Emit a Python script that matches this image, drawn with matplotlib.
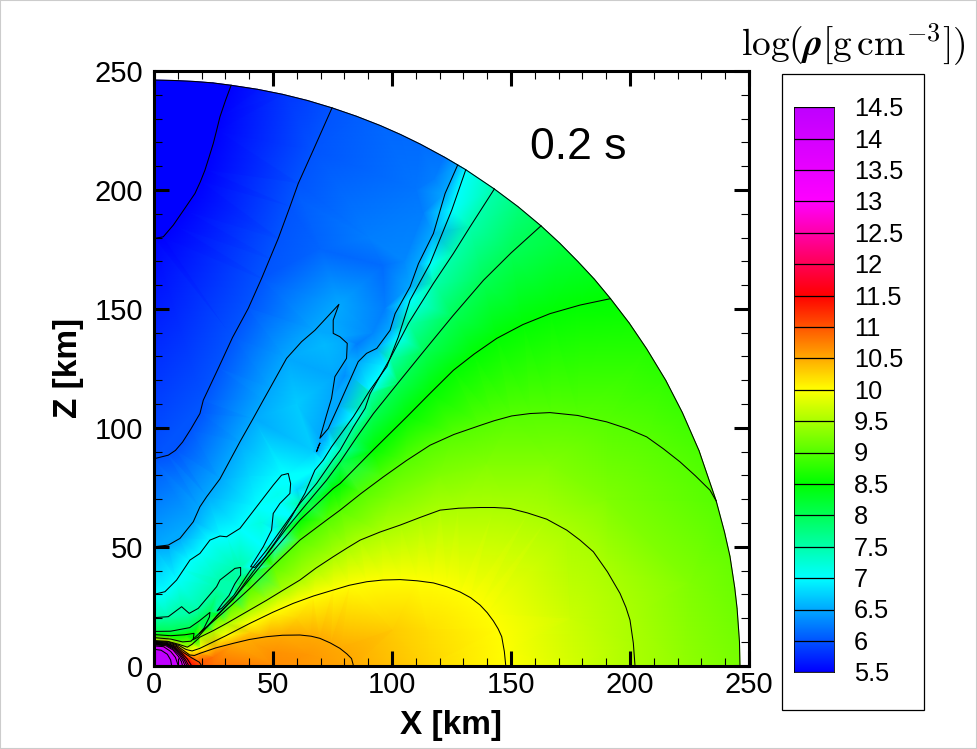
#!/usr/bin/env python3
import numpy as np
import matplotlib
matplotlib.use("Agg")
import matplotlib.pyplot as plt
import matplotlib.tri as mtri
from matplotlib.colors import LinearSegmentedColormap
from matplotlib.patches import Rectangle
from matplotlib.ticker import MultipleLocator

plt.rcParams['font.family'] = ['Liberation Sans', 'DejaVu Sans']
plt.rcParams['mathtext.fontset'] = 'cm'

# === Density contours, X and Z in km ===
c55_x = [0, 3.9, 8.1, 12.5, 17.2, 19.5, 21.4, 23.2, 24.9, 26.3, 27.7, 30, 32.4]
c55_z = [179.6, 180.3, 185.2, 191.6, 198.5, 203.5, 208.3, 214, 219.5, 225, 230.7, 237.5, 244.0]

c60_x = [0, 6, 9, 12, 15.5, 19.3, 20.7, 27, 33, 39.6, 45.2, 48.7, 52.2, 57.1, 60.6, 66.9, 74.8]
c60_z = [87, 88.5, 90.5, 94, 99.5, 106, 111.6, 125, 138, 150.2, 162.8, 171.2, 179.6, 192.9, 202.7, 216.7, 234.5]

c65_x = [0, 6, 10.9, 16.5, 19.3, 22.1, 27.7, 36.1, 41.7, 45.9, 48.7, 55.7, 62, 67.6, 77.7,
         75.3, 75.3, 78.1, 81.2, 80.9, 76, 74.6, 72.5, 69.7, 73.2, 77.4, 83, 85.8, 89.3,
         93.6, 99.2, 101.3, 107.6, 111.1, 117.4, 122.3, 127.6]
c65_z = [50, 50.7, 53.5, 60.5, 66.8, 71, 78.5, 94.1, 104, 111.6, 116.6, 129.2, 136.2, 141, 151.9,
         145.3, 139.7, 138.3, 135.5, 129.2, 121.5, 112.4, 105.4, 95.6, 99.7, 108.9, 121.5, 127.8, 131.3,
         133.4, 141, 148, 159.3, 169, 181.7, 198.5, 210.5]
island_x = [69.7, 68.3, 69.2, 69.7]
island_z = [93.5, 90, 92.6, 93.5]

c70_x = [0, 4.6, 9.5, 12.3, 15.1, 19.3, 23.5, 27.7, 30.5, 36.1, 43.1, 50.1, 53.6, 56.4, 57.4,
         57.1, 52.9, 50.1, 49.4, 45.9, 40.6, 42.4, 46.6, 51.5, 57.8, 63.4, 67.6, 71.1, 74.6,
         83.8, 90.8, 97.8, 102.7, 107.6, 116, 125.1, 131]
c70_z = [30, 31.1, 36, 40.2, 44.4, 47.2, 52.8, 54.5, 54.2, 57.7, 66.8, 75.9, 80.1, 80.8, 76.6,
         72.4, 68.2, 64, 57, 50, 41.6, 41.3, 45.8, 52.8, 62.6, 72.4, 82.2, 86.4, 92,
         104.7, 115.9, 125.7, 138.3, 153.7, 169.1, 191.5, 208.5]

c75_x = [0, 6, 11.6, 14.8, 18.6, 26.3, 27.7, 34, 36.4, 36.4, 34, 31.5, 29, 26.5, 28.5, 33.5,
         40.3, 47.3, 54.3, 61.3, 68.3, 75.1, 78.2, 83.8, 88.7, 90.8, 99.2, 106.9, 117.4, 125.8,
         132.8, 143]
c75_z = [20.2, 20.6, 24.8, 22, 24.1, 33.2, 36, 40.9, 41.3, 38.1, 34.5, 29.5, 26.5, 23, 24.2, 29.5,
         39.8, 48.6, 58.4, 68.2, 76.6, 86.4, 90.6, 100.4, 108.2, 114.4, 129.1, 143.9, 160.7, 173.3,
         184.5, 200.4]

c80_x = [0, 7, 15, 19, 23.5, 23.3, 21, 19, 22.5, 28, 34, 41.7, 48.7, 55.7, 64.1, 72.5, 78.2, 85, 92.2,
         102.5, 113.2, 125.5, 138.4, 150, 162.6]
c80_z = [14.4, 14.5, 16, 18.8, 22.4, 20.5, 15.8, 13.5, 16.5, 22.8, 29, 39.6, 48.5, 57.8, 68, 78, 85.7, 95.8, 106,
         118.8, 132, 147, 162, 173.5, 184.9]

c85_x = [0, 7, 13, 16.8, 16.5, 18.5, 22, 27, 33.3, 38.9, 47.3, 61.3, 75.3, 78.2, 92, 106.2, 116, 125.8, 134.5,
         144, 155, 166.4, 179, 191.8]
c85_z = [13.1, 12.6, 13, 13.6, 11, 12, 16, 21.5, 28, 34.8, 45, 61.2, 74.5, 76.6, 90.6, 104.6, 114.5, 124.2, 131,
         137.6, 143.4, 148, 151.6, 154.3]

c90_x = [0, 7, 12, 15.5, 19.3, 27, 33, 40.3, 50, 61.3, 72.5, 78.2, 87, 96.4, 106, 116, 126, 137, 143, 150.3,
         158, 166.4, 178, 190.2, 199, 207, 214, 221, 227.5, 233.6, 236.2]
c90_z = [11.8, 11.2, 10, 10.3, 13.8, 20.5, 25.8, 32.5, 42, 52.8, 61.2, 65.4, 72.4, 79.4, 86.2, 92.7, 97.2, 101, 103, 105,
         106, 106.4, 105.2, 102.5, 99.6, 96.2, 91.2, 85.7, 79.8, 73.8, 69.3]

c95_x = [0, 6, 11, 14, 16, 19.3, 25, 30.5, 39, 47.3, 54, 61.3, 68, 75.3, 81, 86.6, 95, 103.4, 112, 120.2, 128,
         137, 143, 149.6, 157, 165, 173.4, 179, 184.6, 190.5, 195.8, 198.3, 200, 201.4, 202.1]
c95_z = [10.6, 10.2, 8.8, 7.8, 9, 12, 14.8, 17.8, 22.7, 27.5, 31.6, 36, 41, 45.8, 49.4, 52.8, 56.2, 59.1, 62.4, 65.4, 66.2,
         66.5, 66.5, 66.1, 64.2, 61.6, 57, 52.8, 47.9, 39.5, 30.4, 24.5, 19.2, 9.5, 0]

c100_x = [0, 6, 10.5, 13.5, 16, 19.3, 30, 40.3, 50, 58.5, 67, 75.3, 82, 89.4, 96, 103.4, 110.5, 117.4, 123, 128.6,
          133, 137, 140, 142.6, 144.6, 146.1, 147.2, 147.8]
c100_z = [10.2, 10, 8.5, 6.8, 6.2, 7.3, 12.5, 17.8, 22.5, 26.2, 29.3, 31.8, 33.8, 35.3, 36, 36.2, 35.7, 34.8, 33.2, 31,
          28.6, 25.5, 22.3, 18.8, 15.5, 12.2, 6, 0]

c105_x = [0, 5, 9.5, 12.5, 15, 17, 19.3, 26, 33.3, 40, 47.3, 54, 61.3, 66, 69.7, 74, 78.1, 81, 83, 83.8]
c105_z = [10, 9.9, 8.5, 6.3, 4.5, 4.3, 5.2, 7.5, 9.4, 11, 12.2, 12.8, 12.9, 12.4, 11.5, 9.6, 7.3, 5, 3, 0]

c110_x = [0, 5, 9.5, 12, 16, 19, 20]
c110_z = [9.8, 9.6, 8, 5.8, 3.2, 1.5, 0]
c115_x = [0, 5, 9, 11.7, 14, 15.8]
c115_z = [9.6, 9.4, 7.8, 5.3, 2.8, 0]
c120_x = [0, 5, 8.8, 11.4, 13.3, 14.6]
c120_z = [9.4, 9.2, 7.5, 5, 2.4, 0]
c125_x = [0, 5, 8.5, 11, 12.8, 13.8]
c125_z = [9.2, 9, 7.3, 4.7, 2.2, 0]
c130_x = [0, 5, 8.2, 10.7, 12.2, 13]
c130_z = [9, 8.8, 7, 4.4, 2, 0]
c135_x = [0, 5, 8, 10.2, 11.5, 12]
c135_z = [8.7, 8.4, 6.6, 4, 1.8, 0]
c140_x = [0, 4, 7, 9, 10.2]
c140_z = [8.3, 8, 6, 3.5, 0]
c145_x = [0, 3, 5.6, 7, 7.4]
c145_z = [6.9, 6.5, 4.8, 2.4, 0]

# outer edge of the domain with the density seen along it
outer_x = [0, 8.7, 17, 24.7, 32.4, 43.5, 54, 64.5, 74.8, 85, 95, 103.6, 112, 122, 127.6, 131, 143, 152.9, 162.6,
           170.5, 178, 185, 191.8, 199.7, 207, 215, 222, 229, 236.2, 239.7, 242, 244, 245, 246, 246.2]
outer_z = [246.2, 246, 245.6, 245, 244, 242.3, 240.2, 237.6, 234.5, 231, 227.1, 223.3, 219.2, 213.8, 210.5, 208.5,
           200.4, 193, 184.9, 177.6, 170, 162.5, 154.3, 144, 133.2, 120, 106.4, 90.4, 69.3, 56.2, 46, 32.8, 24, 10, 0]
outer_v = [5.2, 5.28, 5.35, 5.43, 5.5, 5.65, 5.8, 5.9, 6, 6.05, 6.1, 6.13, 6.15, 6.2, 6.5, 7, 7.5, 7.8, 8,
           8.12, 8.25, 8.38, 8.5, 8.6, 8.7, 8.78, 8.85, 8.93, 9, 9.05, 9.1, 9.13, 9.15, 9.18, 9.2]

# densities estimated from the colours away from the contours
sample_x = [0, 25, 25, 50, 50, 65, 40, 60, 72, 45, 52, 26, 33, 21, 50, 60, 67, 72, 80, 85, 96, 110, 61, 69.7, 90,
            113, 105, 118, 97, 92,
            115, 115, 100, 60, 40, 175, 175, 222, 225, 190, 166, 140, 120, 100]
sample_z = [0, 0, 4, 0, 6, 5, 80, 110, 135, 60, 72, 29, 37, 19, 58, 74, 90, 95, 122, 135, 168, 200, 196, 175, 180,
            190, 170, 205, 150, 140,
            0, 15, 15, 20, 14, 0, 20, 0, 35, 70, 85, 85, 80, 70]
sample_v = [14.7, 10.85, 10.8, 10.7, 10.65, 10.6, 6.75, 6.7, 6.6, 7.2, 7.1, 7.7, 7.6, 8.1, 6.9, 6.75, 6.7, 6.55,
            6.35, 6.25, 6.15, 6.2, 6.05, 6.1, 6.25,
            6.25, 6.3, 6.25, 6.25, 6.3,
            10.25, 10.2, 10.3, 10.25, 10.3, 9.75, 9.7, 9.35, 9.25, 9.25, 9.25, 9.25, 9.25, 9.25]

levels = [5.5, 6, 6.5, 7, 7.5, 8, 8.5, 9, 9.5, 10, 10.5, 11, 11.5, 12, 12.5, 13, 13.5, 14, 14.5]
level_labels = ['5.5', '6', '6.5', '7', '7.5', '8', '8.5', '9', '9.5', '10', '10.5', '11', '11.5', '12',
                '12.5', '13', '13.5', '14', '14.5']

contours = [
    (5.5, c55_x, c55_z), (6, c60_x, c60_z), (6.5, c65_x, c65_z), (6.5, island_x, island_z),
    (7, c70_x, c70_z), (7.5, c75_x, c75_z), (8, c80_x, c80_z), (8.5, c85_x, c85_z),
    (9, c90_x, c90_z), (9.5, c95_x, c95_z), (10, c100_x, c100_z), (10.5, c105_x, c105_z),
    (11, c110_x, c110_z), (11.5, c115_x, c115_z), (12, c120_x, c120_z), (12.5, c125_x, c125_z),
    (13, c130_x, c130_z), (13.5, c135_x, c135_z), (14, c140_x, c140_z), (14.5, c145_x, c145_z),
]

# === Colour table ===
rainbow = LinearSegmentedColormap.from_list(
    "tec_rainbow",
    ["#0000ff", "#00ffff", "#00ff00", "#ffff00", "#ff0000", "#ff00ff", "#bf00ff"], N=512)

# === Triangulate the contour points, keep the first value of a repeated point ===
pts = {}
for lev, xs, zs in contours:
    for x, z in zip(xs, zs):
        pts.setdefault((x, z), lev)
for x, z, v in zip(outer_x + sample_x, outer_z + sample_z, outer_v + sample_v):
    pts[(x, z)] = v
px = np.array([p[0] for p in pts], dtype=float)
pz = np.array([p[1] for p in pts], dtype=float)
pv = np.array(list(pts.values()), dtype=float)
tri = mtri.Triangulation(px, pz)

W, H = 977, 749
fig = plt.figure(figsize=(W / 100, H / 100), dpi=100)
ax = fig.add_axes([154 / W, (H - 665.7) / H, 595 / W, 594.7 / H])

ax.tripcolor(tri, pv, shading='gouraud', cmap=rainbow, vmin=5.5, vmax=14.5)
for lev, xs, zs in contours:
    ax.plot(xs, zs, color='black', lw=0.75)
ax.plot(outer_x, outer_z, color='black', lw=0.75)

ax.set_xlim(0, 250)
ax.set_ylim(0, 250)
ax.xaxis.set_major_locator(MultipleLocator(50))
ax.yaxis.set_major_locator(MultipleLocator(50))
ax.xaxis.set_minor_locator(MultipleLocator(10))
ax.yaxis.set_minor_locator(MultipleLocator(10))
ax.tick_params(which='major', direction='in', top=True, right=True, length=10.5, width=2.2,
               labelsize=21, pad=4)
ax.tick_params(which='minor', direction='in', top=True, right=True, length=5.8, width=0.8)
ax.tick_params(axis='y', which='major', pad=8)
for spine in ax.spines.values():
    spine.set_linewidth(2.2)

ax.set_xlabel("X [km]", fontsize=24, fontweight='bold')
ax.set_ylabel("Z [km]", fontsize=24, fontweight='bold')
ax.xaxis.set_label_coords(0.5, -0.074, transform=ax.transAxes)
ax.yaxis.set_label_coords(-0.118, 0.5, transform=ax.transAxes)
ax.text(158, 218, "0.2 s", fontsize=32, va='center', ha='left')

# === Colour bar, drawn by hand inside its box ===
fig.add_artist(Rectangle((782.3 / W, (H - 710.3) / H), 142 / W, 636 / H, transform=fig.transFigure,
                         facecolor='none', edgecolor='black', lw=0.9))
cax = fig.add_axes([794 / W, (H - 672.3) / H, 40 / W, 565 / H])
grad = np.linspace(5.5, 14.5, 512).reshape(-1, 1)
cax.imshow(grad, origin='lower', aspect='auto', extent=[0, 1, 5.5, 14.5], cmap=rainbow, vmin=5.5, vmax=14.5)
cax.hlines(levels, 0, 1, color='black', lw=0.9)
cax.set_xticks([])
cax.set_yticks([])
for spine in cax.spines.values():
    spine.set_linewidth(0.6)
for lev, lab in zip(levels, level_labels):
    cax.text(1.5, lev - 0.03, lab, fontsize=18.3, va='center', ha='left', clip_on=False)

fig.text(853 / W, (H - 45) / H, r"$\log(\boldsymbol{\rho}[\mathrm{g\,cm}^{-3}])$", fontsize=27, ha='center', va='center')

# thin grey page edge
fig.add_artist(Rectangle((0, 0), 1, 1, transform=fig.transFigure, facecolor='none', edgecolor='#cccccc', lw=1.5))

fig.savefig("out.png", dpi=100)
